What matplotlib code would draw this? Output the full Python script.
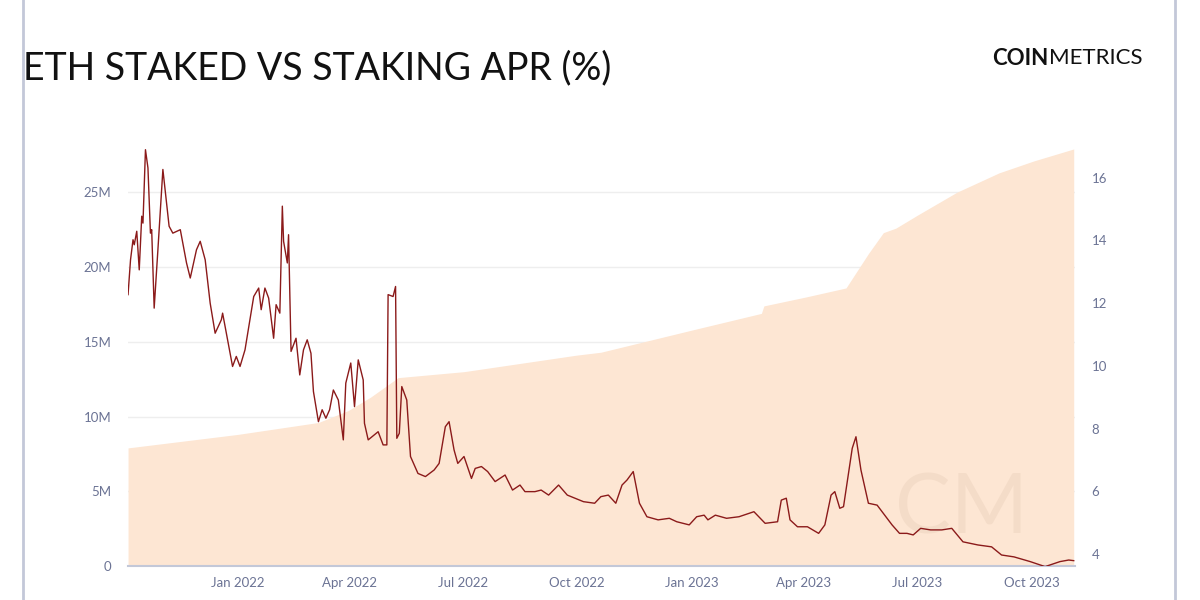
import numpy as np
import pandas as pd
import matplotlib
matplotlib.use("Agg")
import matplotlib.pyplot as plt
import matplotlib.dates as mdates

# days since 2022-01-01
staked_days = [-88, 0, 65, 89, 107, 129, 182, 272, 292, 366, 421, 423, 457, 489, 507, 519, 529, 547, 578, 612, 640, 672]
staked_m = [7.9, 8.8, 9.6, 10.4, 11.3, 12.6, 13.0, 14.1, 14.3, 15.8, 16.9, 17.4, 18.0, 18.6, 20.9, 22.3, 22.6, 23.5, 25.0, 26.3, 27.1, 27.9]

apr_days = [-88, -86, -84, -83, -81, -79, -77, -76, -74, -72, -70, -69, -67, -64, -60, -55, -52, -46, -41, -38,
            -33, -30, -26, -22, -18, -13, -12, -9, -4, -1, 2, 6, 13, 17, 19, 22, 25, 29, 31, 34,
            36, 37, 40, 41, 43, 47, 50, 53, 56, 59, 61, 65, 68, 71, 74, 77, 81, 85, 87, 91,
            94, 97, 101, 102, 105, 110, 113, 117, 120, 121, 125, 127, 128, 130, 132, 136, 139, 145, 151, 158,
            162, 167, 170, 174, 177, 182, 188, 191, 196, 201, 207, 215, 221, 227, 231, 239, 244, 250, 258, 265,
            278, 287, 292, 298, 304, 309, 313, 318, 323, 329, 338, 347, 353, 363, 369, 375, 378, 384, 393, 403,
            415, 424, 434, 437, 441, 444, 450, 458, 467, 472, 477, 480, 484, 487, 494, 497, 501, 507, 514, 526,
            532, 538, 543, 549, 557, 566, 574, 583, 595, 606, 614, 624, 637, 649, 661, 668, 672]
apr = [12.27, 13.38, 14.02, 13.86, 14.29, 13.06, 14.77, 14.55, 16.89, 16.31, 14.23, 14.34, 11.84, 13.70, 16.26, 14.45, 14.23, 14.34, 13.28, 12.80,
       13.70, 13.97, 13.38, 12.0, 11.04, 11.47, 11.68, 11.04, 9.98, 10.30, 9.98, 10.51, 12.21, 12.48, 11.79, 12.48, 12.16, 10.88, 11.95, 11.68,
       15.09, 13.97, 13.28, 14.18, 10.46, 10.88, 9.71, 10.51, 10.83, 10.40, 9.18, 8.22, 8.60, 8.33, 8.60, 9.23, 8.91, 7.64, 9.45, 10.09,
       8.70, 10.19, 9.55, 8.17, 7.64, 7.80, 7.90, 7.48, 7.48, 12.27, 12.21, 12.53, 7.69, 7.85, 9.34, 8.91, 7.11, 6.57, 6.47, 6.68,
       6.89, 8.06, 8.22, 7.32, 6.89, 7.11, 6.41, 6.73, 6.79, 6.63, 6.31, 6.52, 6.04, 6.20, 5.99, 5.99, 6.04, 5.88, 6.20, 5.88,
       5.67, 5.62, 5.83, 5.88, 5.62, 6.20, 6.36, 6.63, 5.62, 5.19, 5.09, 5.14, 5.03, 4.93, 5.19, 5.24, 5.09, 5.24, 5.14, 5.19,
       5.35, 4.98, 5.03, 5.72, 5.78, 5.09, 4.87, 4.87, 4.66, 4.93, 5.88, 5.99, 5.46, 5.51, 7.37, 7.74, 6.68, 5.62, 5.56, 4.93,
       4.66, 4.66, 4.61, 4.82, 4.77, 4.77, 4.82, 4.39, 4.29, 4.23, 3.97, 3.91, 3.76, 3.60, 3.76, 3.81, 3.79]

x_ticks = ["2022-01-01", "2022-04-01", "2022-07-01", "2022-10-01", "2023-01-01", "2023-04-01", "2023-07-01", "2023-10-01"]

base = pd.Timestamp("2022-01-01")
sd = base + pd.to_timedelta(staked_days, unit="D")
ad = base + pd.to_timedelta(apr_days, unit="D")

fig = plt.figure(figsize=(12, 6), dpi=100)
fig.patch.set_facecolor("white")
frame = "#c3c8d8"
fig.add_artist(plt.Line2D([0.019, 0.019], [0, 1], color=frame, lw=2))
fig.add_artist(plt.Line2D([0.979, 0.979], [0, 1], color=frame, lw=2))

fig.text(0.019, 0.887, "ETH STAKED VS STAKING APR (%)", fontsize=27, family="Lato", color="#111111", va="center")
fig.text(0.874, 0.903, "COIN", fontsize=16, family="Lato", weight="bold", color="#111111", va="center", ha="right")
fig.text(0.874, 0.903, "METRICS", fontsize=16, family="Lato", color="#111111", va="center", ha="left")

ax = fig.add_axes([0.1067, 0.0567, 0.7891, 0.71])
tick_c = "#6b7394"
ax.fill_between(sd, staked_m, 0, color="#fde6d3", lw=0, zorder=1)
ax.set_ylim(0, 28.5)
ax.set_yticks([0, 5, 10, 15, 20, 25])
ax.set_yticklabels(["0", "5M", "10M", "15M", "20M", "25M"])
ax.grid(axis="y", color="#eeeeee", lw=1, zorder=0)
ax.set_axisbelow(True)
ax.set_xlim(base + pd.Timedelta(days=-88), base + pd.Timedelta(days=673))
ax.set_xticks(pd.to_datetime(x_ticks))
ax.xaxis.set_major_formatter(mdates.DateFormatter("%b %Y"))
for s in ["top", "right", "left"]:
    ax.spines[s].set_visible(False)
ax.spines["bottom"].set_color(frame)
ax.spines["bottom"].set_linewidth(1.5)
ax.tick_params(axis="both", length=0, colors=tick_c, labelsize=9.5, pad=12)
ax.tick_params(axis="x", pad=8)
for t in ax.get_xticklabels() + ax.get_yticklabels():
    t.set_family("Lato")

ax2 = ax.twinx()
ax2.plot(ad, apr, color="#8b1a1a", lw=1, zorder=3)
ax2.set_ylim(3.62, 17.2)
ax2.set_yticks([4, 6, 8, 10, 12, 14, 16])
for s in ["top", "right", "left", "bottom"]:
    ax2.spines[s].set_visible(False)
ax2.tick_params(axis="y", length=0, colors=tick_c, labelsize=9.5, pad=12)
for t in ax2.get_yticklabels():
    t.set_family("Lato")

ax.text(0.88, 0.13, "CM", transform=ax.transAxes, fontsize=60, family="Lato", color="#e8cdb8",
        alpha=0.4, ha="center", va="center", zorder=2)

fig.savefig("out.png", dpi=100, facecolor="white")
